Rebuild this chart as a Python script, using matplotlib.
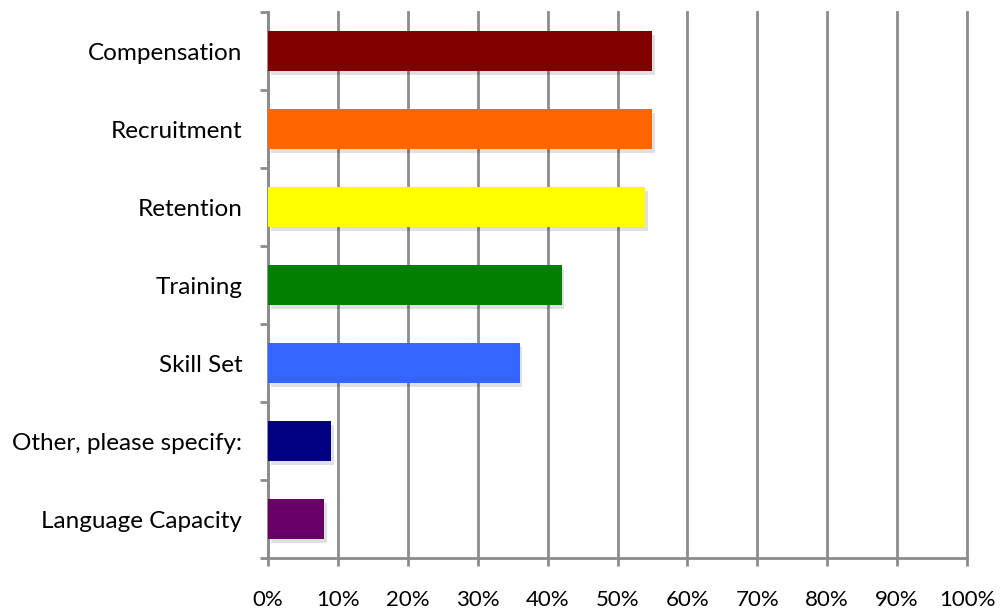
import matplotlib
matplotlib.use("Agg")
import matplotlib.pyplot as plt
import matplotlib.patheffects as pe
from matplotlib.ticker import FixedLocator, PercentFormatter

plt.rcParams['font.family'] = ['Lato', 'DejaVu Sans']

categories = ["Compensation", "Recruitment", "Retention", "Training",
              "Skill Set", "Other, please specify:", "Language Capacity"]
values = [55, 55, 54, 42, 36, 9, 8]
colors = ["#800000", "#FF6600", "#FFFF00", "#008000", "#3366FF", "#000080", "#660066"]

fig = plt.figure(figsize=(10.02, 6.14), dpi=100)
ax = fig.add_axes([268 / 1002, 1 - 558 / 614, (967 - 268) / 1002, (558 - 12) / 614])

ypos = list(range(len(categories)))[::-1]
bars = ax.barh(ypos, values, height=0.51, color=colors, zorder=3)
for b in bars:
    b.set_path_effects([pe.SimplePatchShadow(offset=(2, -3), shadow_rgbFace='#000000', alpha=0.12),
                        pe.Normal()])

ax.set_xlim(0, 100)
ax.set_ylim(-0.5, len(categories) - 0.5)
ax.set_xticks(range(0, 101, 10))
ax.xaxis.set_major_formatter(PercentFormatter(decimals=0))
ax.set_yticks(ypos)
ax.set_yticklabels(categories)
ax.yaxis.set_minor_locator(FixedLocator([i - 0.5 for i in range(len(categories) + 1)]))

grid_color = "#8c8c8c"
ax.grid(axis='x', color=grid_color, linewidth=2, zorder=0)
for gl in ax.get_xgridlines():
    gl.set_clip_on(False)
for s in ['top', 'right']:
    ax.spines[s].set_visible(False)
for s in ['left', 'bottom']:
    ax.spines[s].set_color(grid_color)
    ax.spines[s].set_linewidth(2)

ax.tick_params(axis='y', which='major', length=0, pad=18.5, labelsize=17.5)
ax.tick_params(axis='y', which='minor', length=6, width=2, color=grid_color)
ax.tick_params(axis='x', length=6, width=2, color=grid_color, pad=17, labelsize=16)

fig.savefig("out.png", dpi=100)
